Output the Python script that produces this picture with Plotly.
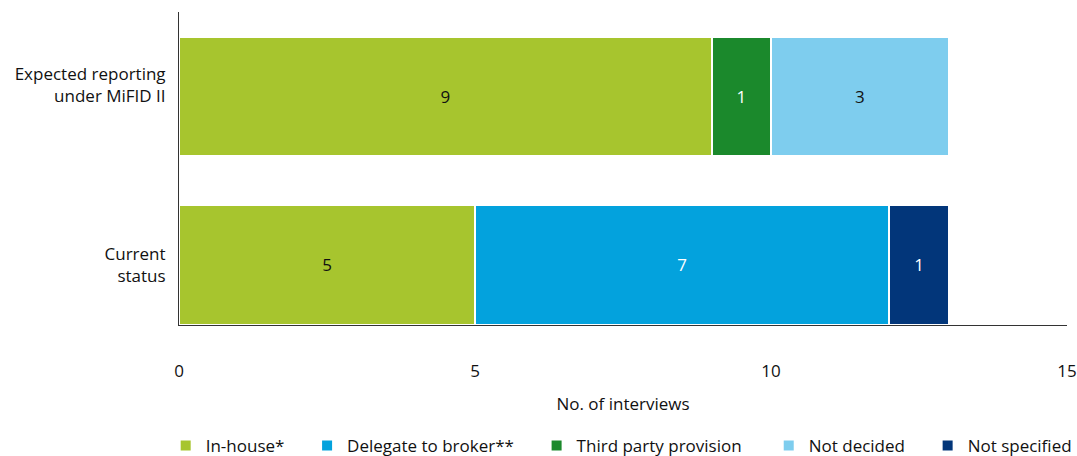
import plotly.graph_objects as go

categories = ["Current<br>status", "Expected reporting<br>under MiFID II<br>\u00a0"]
series_names = ["In-house*", "Delegate to broker**", "Third party provision", "Not decided", "Not specified"]
in_house = [5, 9]
delegate = [7, 0]
third_party = [0, 1]
not_decided = [0, 3]
not_specified = [1, 0]
colors = ["#A7C52E", "#03A2DD", "#1B892C", "#7ECDEE", "#02367A"]
text_colors = ["#111111", "#FFFFFF", "#FFFFFF", "#111111", "#FFFFFF"]
legend_pads = [4, 4, 5, 4, 0]  # non-breaking spaces to widen legend spacing

values = [in_house, delegate, third_party, not_decided, not_specified]
font_family = "Open Sans, Noto Sans, sans-serif"
fs = 17

fig = go.Figure()
for name, vals, col, tcol, p in zip(series_names, values, colors, text_colors, legend_pads):
    fig.add_trace(go.Bar(
        y=[0, 1], x=vals, name=name + "\u00a0" * p, orientation="h",
        marker=dict(color=col, line=dict(color="white", width=2)),
        text=[str(v) if v else "" for v in vals],
        textposition="inside", insidetextanchor="middle",
        textfont=dict(color=tcol, size=fs, family=font_family),
        width=0.71,
    ))

fig.update_layout(
    barmode="stack",
    width=1077, height=456,
    margin=dict(l=179, r=10, t=12, b=131, autoexpand=False),
    paper_bgcolor="white", plot_bgcolor="white",
    font=dict(family=font_family, size=fs, color="#111111"),
    showlegend=True,
    legend=dict(orientation="h", x=-0.015, y=-0.329, xanchor="left", yanchor="top",
                font=dict(size=fs), traceorder="normal", itemwidth=30),
    uniformtext=dict(minsize=8, mode="show"),
)
fig.update_xaxes(range=[0, 15], tickvals=[0, 5, 10, 15], showgrid=False, zeroline=False,
                 showline=True, linecolor="#333333", linewidth=1, ticks="",
                 ticklabelstandoff=31, automargin=False, ticklabeloverflow="allow",
                 title=dict(text="No. of interviews", standoff=16, font=dict(size=fs)))
fig.update_yaxes(range=[-0.356, 1.501], tickvals=[0, 1], ticktext=categories, showgrid=False,
                 zeroline=False, showline=True, linecolor="#333333", linewidth=1, ticks="",
                 ticklabelstandoff=9, automargin=False)

fig.write_html(
    "out.html",
    config={"displayModeBar": False},
    post_script=("document.body.style.margin='0';"
                 "document.body.style.overflow='hidden';"
                 "document.documentElement.style.overflow='hidden';"),
)
